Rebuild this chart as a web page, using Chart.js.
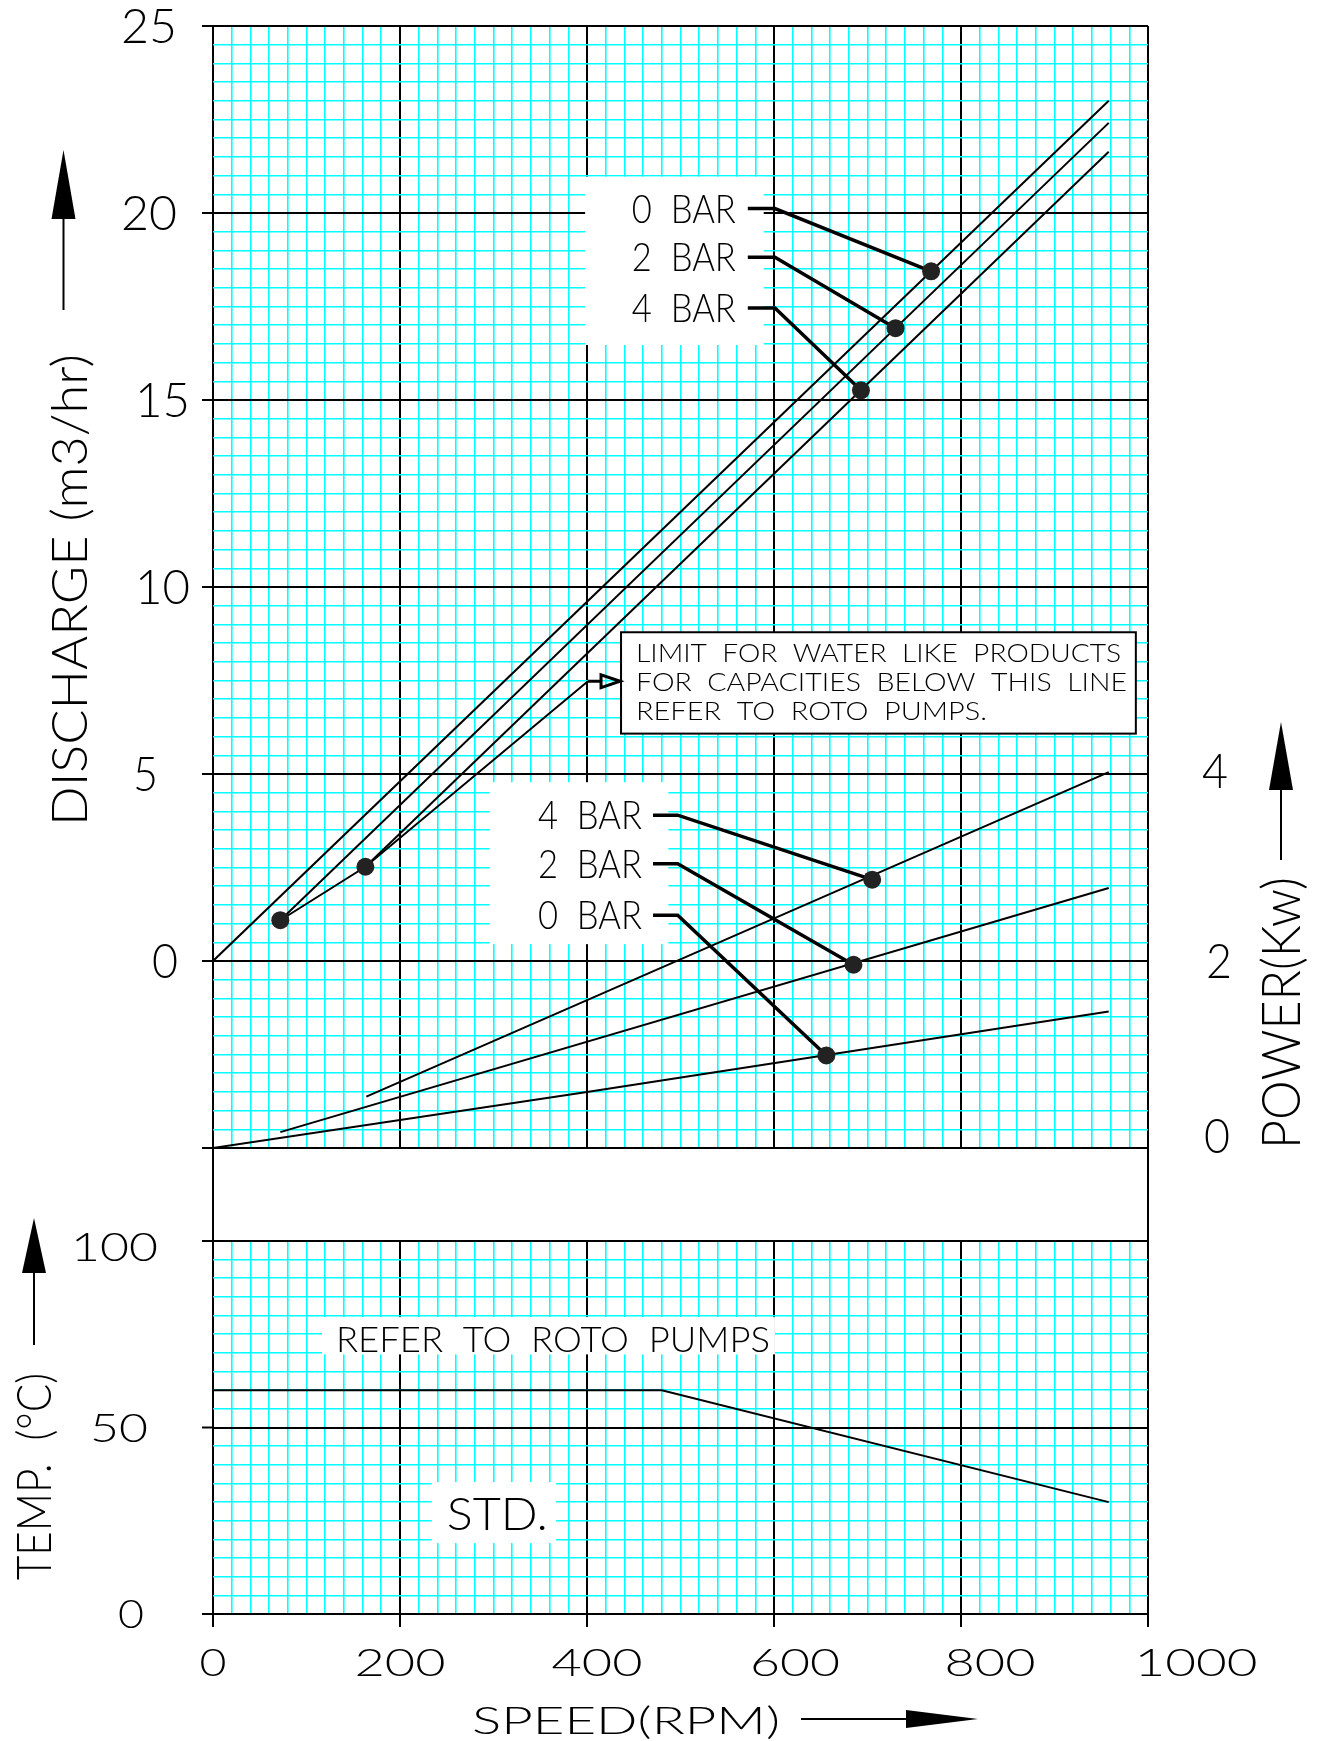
<!DOCTYPE html>
<html>
<head>
<meta charset="utf-8">
<script src="https://cdn.jsdelivr.net/npm/chart.js@4.4.1/dist/chart.umd.min.js"></script>
<style>
    html, body { margin: 0; padding: 0; background: #fff; }
    #wrap { position: relative; width: 1322px; height: 1741px; overflow: hidden; }
    canvas { position: absolute; left: 0; }
    #upper { top: 0; }
    #lower { top: 1140px; }
</style>
</head>
<body>
<div id="wrap">
    <canvas id="upper" width="1322" height="1160"></canvas>
    <canvas id="lower" width="1322" height="601"></canvas>
</div>
<script>
// tick labels
const speedTicks = [0, 200, 400, 600, 800, 1000];
const dischargeTicks = [0, 5, 10, 15, 20, 25];
const powerTicks = [0, 2, 4];
const tempTicks = [0, 50, 100];

// discharge (m3/hr) against speed (rpm)
const discharge0Bar = [{ x: 0, y: 0 }, { x: 958, y: 23.0 }];
const discharge2Bar = [{ x: 72, y: 1.09 }, { x: 958, y: 22.41 }];
const discharge4Bar = [{ x: 163, y: 2.52 }, { x: 958, y: 21.64 }];
const limitLine = [{ x: 72, y: 1.09 }, { x: 163, y: 2.52 }, { x: 401, y: 7.48 }];
const dischargeMarks = [{ x: 72, y: 1.09 }, { x: 163, y: 2.52 }, { x: 768, y: 18.44 }, { x: 730, y: 16.92 }, { x: 693, y: 15.26 }];

// power (kW) against speed (rpm)
const power0Bar = [{ x: 0, y: 0 }, { x: 400, y: 0.6 }, { x: 958, y: 1.46 }];
const power2Bar = [{ x: 72, y: 0.17 }, { x: 958, y: 2.78 }];
const power4Bar = [{ x: 164, y: 0.55 }, { x: 958, y: 4.02 }];
const powerMarks = [{ x: 705, y: 2.87 }, { x: 685, y: 1.96 }, { x: 656, y: 0.99 }];

// temperature limit (deg C) against speed (rpm)
const tempLimit = [{ x: 0, y: 60 }, { x: 480, y: 60 }, { x: 958, y: 30 }];

// pressure tags: label, level of the tag on its own axis
const dischargeTags = ['0  BAR', '2  BAR', '4  BAR'];
const dischargeTagLevel = [20.12, 18.82, 17.46];
const powerTags = ['4  BAR', '2  BAR', '0  BAR'];
const powerTagLevel = [3.56, 3.04, 2.49];

// label placement (px), as drawn on the sheet
const speedLabelShift = [0, 0, 10, 21, 29, 48];
const speedLabelWidth = [27, 91, 91, 90, 91, 123];
const dischargeLabelInset = [35, 55, 23, 23, 36, 36];
const dischargeLabelWidth = [26, 25, 55, 55, 56, 56];
const powerLabelInset = [56, 58, 54];
const powerLabelLift = [-12, 0, -3];
const tempLabelInset = [69, 65, 55];
const tempLabelDrop = [0, 0, 6];
const tempLabelWidth = [26, 58, 87];

const CYAN = '#00ffff';
const INK = '#000';
const FONT = 'Lato, "Liberation Sans", sans-serif';

function grid(major) {
    const isMajor = (c) => c.tick && Math.abs(c.tick.value % major) < 1e-9;
    return {
        drawTicks: false,
        color: (c) => isMajor(c) ? INK : CYAN,
        lineWidth: (c) => isMajor(c) ? 2 : 1.6,
    };
}

function say(ctx, s, x, y, o) {
    ctx.save();
    ctx.translate(x, y);
    if (o.rot) ctx.rotate(o.rot);
    ctx.font = `${o.weight || 300} ${o.size}px ${FONT}`;
    const sx = o.width ? o.width / ctx.measureText(s).width : 1;
    ctx.scale(sx, 1);
    ctx.textAlign = o.align || 'center';
    ctx.textBaseline = 'alphabetic';
    ctx.fillStyle = INK;
    ctx.fillText(s, 0, o.size * 0.36);
    ctx.restore();
}

function arrow(ctx, x1, y1, x2, y2, head, half) {
    const len = Math.hypot(x2 - x1, y2 - y1);
    const ux = (x2 - x1) / len, uy = (y2 - y1) / len;
    const bx = x2 - ux * head, by = y2 - uy * head;
    ctx.save();
    ctx.strokeStyle = INK;
    ctx.fillStyle = INK;
    ctx.lineWidth = 2;
    ctx.beginPath();
    ctx.moveTo(x1, y1);
    ctx.lineTo(bx, by);
    ctx.stroke();
    ctx.beginPath();
    ctx.moveTo(x2, y2);
    ctx.lineTo(bx - uy * half, by + ux * half);
    ctx.lineTo(bx + uy * half, by - ux * half);
    ctx.closePath();
    ctx.fill();
    ctx.restore();
}

function box(x, y, b) {
    const l = x.getPixelForValue(b[0]), r = x.getPixelForValue(b[1]);
    const t = y.getPixelForValue(b[3]), btm = y.getPixelForValue(b[2]);
    return { l, t, w: r - l, h: btm - t };
}

// note boxes in data units: [speed from, speed to, value from, value to]
const upperTagBox = [398, 589, 16.47, 20.97];
const lowerTagBox = [296, 487, 0.45, 4.78];
const limitNoteBox = [436.4, 987, 6.08, 8.79];
const referBox = [116.6, 601, 69.6, 79.6];
const stdBox = [234, 367, 19, 35.4];

function leader(start, knee, level, mark, axis) {
    return {
        data: [{ x: start, y: level }, { x: knee, y: level }, mark],
        yAxisID: axis, showLine: true, borderColor: INK, borderWidth: 3.5, pointRadius: 0,
    };
}

function line(data, axis) {
    return { data, yAxisID: axis, showLine: true, borderColor: INK, borderWidth: 2, pointRadius: 0 };
}

const upperDecor = {
    id: 'upperDecor',
    beforeDatasetsDraw(chart) {
        const { ctx, scales: { x, y } } = chart;
        ctx.save();
        ctx.fillStyle = '#fff';
        [upperTagBox, lowerTagBox].forEach((b) => {
            const r = box(x, y, b);
            ctx.fillRect(r.l, r.t, r.w, r.h);
        });
        const n = box(x, y, limitNoteBox);
        ctx.fillRect(n.l, n.t, n.w, n.h);
        ctx.strokeStyle = INK;
        ctx.lineWidth = 2;
        ctx.strokeRect(n.l, n.t, n.w, n.h);
        ctx.restore();
    },
    afterDraw(chart) {
        const { ctx, scales: { x, y, yPower } } = chart;
        ctx.save();
        ctx.strokeStyle = INK;
        ctx.lineWidth = 2;
        y.ticks.forEach((t) => {
            if (Math.abs(t.value % 5) > 1e-9) return;
            const py = y.getPixelForValue(t.value);
            ctx.beginPath();
            ctx.moveTo(x.left - 11, py);
            ctx.lineTo(x.left, py);
            ctx.stroke();
        });
        ctx.restore();

        dischargeTicks.forEach((v, i) => {
            say(ctx, String(v), x.left - dischargeLabelInset[i], y.getPixelForValue(v), { size: 47, align: 'right', width: dischargeLabelWidth[i] });
        });
        powerTicks.forEach((v, i) => {
            say(ctx, String(v), x.right + powerLabelInset[i], yPower.getPixelForValue(v) + powerLabelLift[i], { size: 47, align: 'left', width: 26 });
        });

        // tags
        dischargeTags.forEach((s, i) => {
            say(ctx, s, x.getPixelForValue(572) - 12, y.getPixelForValue(dischargeTagLevel[i]), { size: 39, align: 'right', width: 104 });
        });
        powerTags.forEach((s, i) => {
            say(ctx, s, x.getPixelForValue(470.6) - 11, yPower.getPixelForValue(powerTagLevel[i]), { size: 39, align: 'right', width: 104 });
        });

        // limit note
        const n = box(x, y, limitNoteBox);
        say(ctx, 'LIMIT  FOR  WATER  LIKE  PRODUCTS', n.l + 15, n.t + 20.5, { size: 26, align: 'left', width: 485 });
        say(ctx, 'FOR  CAPACITIES  BELOW  THIS  LINE', n.l + 15, n.t + 49.5, { size: 26, align: 'left', width: 491 });
        say(ctx, 'REFER  TO  ROTO  PUMPS.', n.l + 15, n.t + 78, { size: 26, align: 'left', width: 351 });
        const end = limitLine[limitLine.length - 1];
        const ex = x.getPixelForValue(end.x), ey = y.getPixelForValue(end.y);
        ctx.save();
        ctx.strokeStyle = INK;
        ctx.lineWidth = 3;
        ctx.beginPath();
        ctx.moveTo(ex, ey);
        ctx.lineTo(n.l - 20, ey);
        ctx.stroke();
        ctx.beginPath();
        ctx.moveTo(n.l - 1, ey);
        ctx.lineTo(n.l - 20, ey - 6.5);
        ctx.lineTo(n.l - 20, ey + 6.5);
        ctx.closePath();
        ctx.stroke();
        ctx.restore();

        // axis titles
        say(ctx, 'DISCHARGE (m3/hr)', 69, 590, { size: 50, rot: -Math.PI / 2, width: 472 });
        arrow(ctx, 63.5, 310, 63.5, 150, 69, 12);
        say(ctx, 'POWER(Kw)', 1281, 1013, { size: 53, rot: -Math.PI / 2, width: 272 });
        arrow(ctx, 1281, 860, 1281, 722, 68, 12);
    },
};

const lowerDecor = {
    id: 'lowerDecor',
    beforeDatasetsDraw(chart) {
        const { ctx, scales: { x, y } } = chart;
        ctx.save();
        ctx.fillStyle = '#fff';
        [referBox, stdBox].forEach((b) => {
            const r = box(x, y, b);
            ctx.fillRect(r.l, r.t, r.w, r.h);
        });
        ctx.restore();
    },
    afterDraw(chart) {
        const { ctx, scales: { x, y } } = chart;
        const gap = y.getPixelForValue(0) - y.getPixelForValue(25);
        ctx.save();
        ctx.strokeStyle = INK;
        ctx.lineWidth = 2;
        [x.left, x.right].forEach((px) => {
            ctx.beginPath();
            ctx.moveTo(px, y.top - gap);
            ctx.lineTo(px, y.top);
            ctx.stroke();
        });
        tempTicks.forEach((v) => {
            const py = y.getPixelForValue(v);
            ctx.beginPath();
            ctx.moveTo(x.left - 11, py);
            ctx.lineTo(x.left, py);
            ctx.stroke();
        });
        speedTicks.forEach((v) => {
            const px = x.getPixelForValue(v);
            ctx.beginPath();
            ctx.moveTo(px, y.bottom);
            ctx.lineTo(px, y.bottom + 13);
            ctx.stroke();
        });
        ctx.restore();

        tempTicks.forEach((v, i) => {
            say(ctx, String(v), x.left - tempLabelInset[i], y.getPixelForValue(v) + tempLabelDrop[i], { size: 40, align: 'right', width: tempLabelWidth[i] });
        });
        speedTicks.forEach((v, i) => {
            say(ctx, String(v), x.getPixelForValue(v) + speedLabelShift[i], y.bottom + 48, { size: 38, width: speedLabelWidth[i] });
        });

        say(ctx, 'REFER  TO  ROTO  PUMPS', x.getPixelForValue(131.5), y.getPixelForValue(73.7), { size: 36, align: 'left', width: 434 });
        say(ctx, 'STD.', x.getPixelForValue(304), y.getPixelForValue(26.9), { size: 46, width: 101 });

        say(ctx, 'TEMP.  (°C)', 34, 336.5, { size: 47, rot: -Math.PI / 2, width: 207 });
        arrow(ctx, 34, 205, 34, 78, 55, 12);
        say(ctx, 'SPEED(RPM)', 626, y.bottom + 106, { size: 38, width: 308 });
        arrow(ctx, 801, y.bottom + 105, 978, y.bottom + 105, 72, 9);
    },
};

const common = {
    responsive: false,
    animation: false,
    devicePixelRatio: 1,
    events: [],
    plugins: { legend: { display: false }, tooltip: { enabled: false } },
};

function speedAxis() {
    return {
        type: 'linear', min: 0, max: 1000,
        ticks: { display: false, stepSize: 20, autoSkip: false, maxTicksLimit: 1000 },
        grid: grid(200), border: { display: false },
    };
}

new Chart(document.getElementById('upper'), {
    type: 'scatter',
    data: {
        datasets: [
            { data: dischargeMarks, yAxisID: 'y', pointRadius: 9, pointBackgroundColor: '#222', pointBorderWidth: 0 },
            { data: powerMarks, yAxisID: 'yPower', pointRadius: 9, pointBackgroundColor: '#222', pointBorderWidth: 0 },
            leader(572, 601, dischargeTagLevel[0], dischargeMarks[2], 'y'),
            leader(572, 601, dischargeTagLevel[1], dischargeMarks[3], 'y'),
            leader(572, 601, dischargeTagLevel[2], dischargeMarks[4], 'y'),
            leader(470.6, 497, powerTagLevel[0], powerMarks[0], 'yPower'),
            leader(470.6, 497, powerTagLevel[1], powerMarks[1], 'yPower'),
            leader(470.6, 497, powerTagLevel[2], powerMarks[2], 'yPower'),
            line(discharge0Bar, 'y'),
            line(discharge2Bar, 'y'),
            line(discharge4Bar, 'y'),
            line(limitLine, 'y'),
            line(power0Bar, 'yPower'),
            line(power2Bar, 'yPower'),
            line(power4Bar, 'yPower'),
        ],
    },
    options: {
        ...common,
        layout: { padding: { left: 213, right: 174, top: 26, bottom: 12 } },
        scales: {
            x: speedAxis(),
            y: {
                type: 'linear', min: -5, max: 25,
                ticks: { display: false, stepSize: 0.5, autoSkip: false, maxTicksLimit: 1000 },
                grid: grid(5), border: { display: false },
            },
            yPower: { type: 'linear', position: 'right', display: false, min: 0, max: 12 },
        },
    },
    plugins: [upperDecor],
});

new Chart(document.getElementById('lower'), {
    type: 'scatter',
    data: { datasets: [line(tempLimit, 'y')] },
    options: {
        ...common,
        layout: { padding: { left: 213, right: 174, top: 101, bottom: 127 } },
        scales: {
            x: speedAxis(),
            y: {
                type: 'linear', min: 0, max: 100,
                ticks: { display: false, stepSize: 5, autoSkip: false, maxTicksLimit: 1000 },
                grid: grid(50), border: { display: false },
            },
        },
    },
    plugins: [lowerDecor],
});
</script>
</body>
</html>
